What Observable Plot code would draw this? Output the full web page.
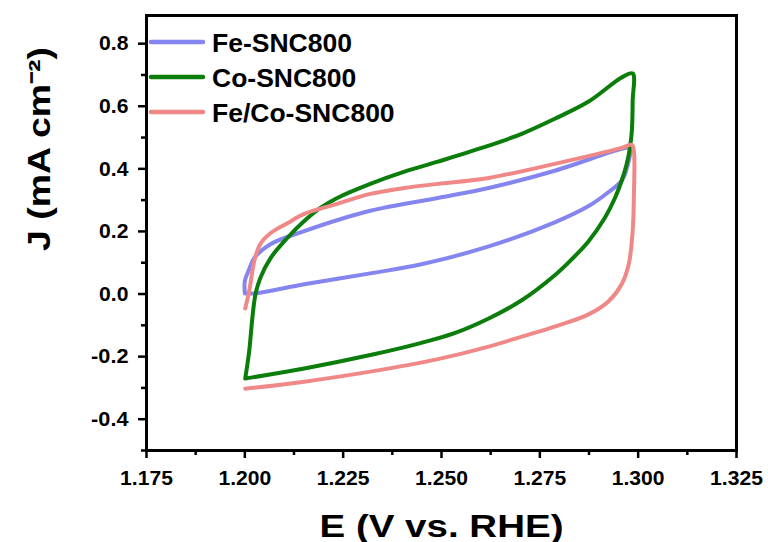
<!DOCTYPE html>
<html>
<head>
<meta charset="utf-8">
<script src="https://cdn.jsdelivr.net/npm/d3@7"></script>
<script src="https://cdn.jsdelivr.net/npm/@observablehq/plot@0.6"></script>
<style>
  html, body { margin: 0; padding: 0; background: #fff; }
  svg { display: block; }
</style>
</head>
<body>
<div id="chart"></div>
<script>
// Cyclic voltammograms in the non-faradaic window (double-layer capacitance)
const seriesNames = ["Fe-SNC800", "Co-SNC800", "Fe/Co-SNC800"];
const seriesColors = ["#8585f0", "#0b7d0b", "#f08888"];

// Fe-SNC800: potential (V vs. RHE) and current density (mA cm^-2)
const feE = [1.2000, 1.2024, 1.2151, 1.2319, 1.2449, 1.2620, 1.2788, 1.2874, 1.2925, 1.2958, 1.2973, 1.2979,
             1.2958, 1.2788, 1.2620, 1.2491, 1.2319, 1.2151, 1.2065, 1.2024, 1.2011, 1.2000, 1.2000];
const feJ = [0.002, 0.002, 0.031, 0.066, 0.095, 0.152, 0.229, 0.281, 0.326, 0.362, 0.410, 0.467,
             0.464, 0.394, 0.339, 0.307, 0.266, 0.201, 0.159, 0.115, 0.079, 0.041, 0.002];

// Co-SNC800
const coE = [1.2001, 1.2151, 1.2319, 1.2449, 1.2533, 1.2620, 1.2704, 1.2788, 1.2831, 1.2874, 1.2915, 1.2941,
             1.2958, 1.2971, 1.2979, 1.2984, 1.2986, 1.2986,
             1.2958, 1.2874, 1.2788, 1.2704, 1.2620, 1.2491, 1.2406, 1.2319, 1.2235, 1.2192, 1.2151, 1.2108,
             1.2065, 1.2039, 1.2027, 1.2019, 1.2011, 1.2001];
const coJ = [-0.270, -0.238, -0.195, -0.156, -0.125, -0.078, -0.020, 0.060, 0.111, 0.169, 0.243, 0.307,
             0.362, 0.416, 0.467, 0.522, 0.618, 0.705,
             0.692, 0.615, 0.560, 0.512, 0.474, 0.423, 0.391, 0.352, 0.307, 0.275, 0.233, 0.179,
             0.114, 0.050, -0.001, -0.078, -0.184, -0.270];

// Fe/Co-SNC800
const fecoE = [1.2001, 1.2011, 1.2024, 1.2039, 1.2065, 1.2108, 1.2151, 1.2235, 1.2319, 1.2406, 1.2491, 1.2620,
               1.2788, 1.2958, 1.2984, 1.2989, 1.2989, 1.2986, 1.2976, 1.2958, 1.2925, 1.2874, 1.2788, 1.2704,
               1.2620, 1.2491, 1.2319, 1.2151, 1.2001];
const fecoJ = [-0.046, 0.009, 0.105, 0.159, 0.194, 0.226, 0.256, 0.288, 0.320, 0.339, 0.352, 0.371,
               0.416, 0.467, 0.477, 0.458, 0.307, 0.201, 0.095, 0.031, -0.023, -0.065, -0.104, -0.136,
               -0.168, -0.208, -0.248, -0.280, -0.303];

// Axis ticks
const xMajor = [1.175, 1.200, 1.225, 1.250, 1.275, 1.300, 1.325];
const xMinor = [1.1875, 1.2125, 1.2375, 1.2625, 1.2875, 1.3125];
const yMajor = [-0.4, -0.2, 0.0, 0.2, 0.4, 0.6, 0.8];
const yMinor = [-0.5, -0.3, -0.1, 0.1, 0.3, 0.5, 0.7];
const xFormat = d => d.toFixed(3);
const yFormat = d => d.toFixed(1);

const xLabel = "E (V vs. RHE)";
const yLabel = "J (mA cm\u207B\u00B2)";

const curves = [[feE, feJ], [coE, coJ], [fecoE, fecoJ]];
const rows = curves.flatMap(([E, J], s) =>
  E.map((e, i) => ({series: seriesNames[s], E: e, J: J[i]})));

const font = "'Liberation Sans', Arial, Helvetica, sans-serif";

const chart = Plot.plot({
  width: 768,
  height: 542,
  marginLeft: 146,
  marginRight: 32,
  marginTop: 15,
  marginBottom: 92,
  style: {fontFamily: font, fontSize: "20px", fontWeight: "bold", color: "#000", background: "#fff"},
  x: {domain: [1.175, 1.325]},
  y: {domain: [-0.5, 0.89]},
  color: {domain: seriesNames, range: seriesColors},
  marks: [
    Plot.line(rows, {x: "E", y: "J", z: "series", stroke: "series", strokeWidth: 4,
                     curve: "catmull-rom", strokeLinejoin: "round", strokeLinecap: "round"}),
    Plot.frame({stroke: "#000", strokeWidth: 3}),
    // tick marks (major and minor)
    Plot.axisX(xMajor, {tickSize: 8, strokeWidth: 2.5, tickFormat: () => "", label: null}),
    Plot.axisX(xMinor, {tickSize: 5, strokeWidth: 2.5, tickFormat: () => "", label: null}),
    Plot.axisY(yMajor, {tickSize: 8, strokeWidth: 2.5, tickFormat: () => "", label: null}),
    Plot.axisY(yMinor, {tickSize: 5, strokeWidth: 2.5, tickFormat: () => "", label: null}),
    // tick labels
    Plot.text(xMajor, {x: d => d, text: xFormat, frameAnchor: "bottom", lineAnchor: "top", dy: 20,
                       fontSize: 21, fontWeight: "bold"}),
    Plot.text(yMajor, {y: d => d, text: yFormat, frameAnchor: "left", textAnchor: "end", dx: -18,
                       lineAnchor: "middle", fontSize: 21, fontWeight: "bold"}),
    // axis titles
    Plot.text([xLabel], {text: d => d, frameAnchor: "bottom", dy: 77, lineAnchor: "middle",
                         fontSize: 31, fontWeight: "bold"}),
    Plot.text([yLabel], {text: d => d, frameAnchor: "left", rotate: -90, dx: -106, dy: 18,
                         lineAnchor: "middle", fontSize: 31, fontWeight: "bold"})
  ]
});

// Tick labels: wide bold digits
const labelWidth = s => [...s].reduce((w, c) => w + (c === "." ? 6 : c === "-" ? 8 : 11.7), 0);
const tickTexts = new Set([...xMajor.map(xFormat), ...yMajor.map(yFormat)]);
d3.select(chart).selectAll("text")
  .filter(function() { return tickTexts.has(this.textContent.trim()); })
  .each(function() {
    d3.select(this).attr("textLength", labelWidth(this.textContent.trim()))
      .attr("lengthAdjust", "spacingAndGlyphs");
  });

// Stretch the axis titles to their wide lettering
d3.select(chart).selectAll("text")
  .filter(function() { return this.textContent === xLabel; })
  .attr("textLength", 244).attr("lengthAdjust", "spacingAndGlyphs");
d3.select(chart).selectAll("text")
  .filter(function() { return this.textContent === yLabel; })
  .attr("textLength", 204).attr("lengthAdjust", "spacingAndGlyphs");

// Legend in the top-left corner of the frame
const legend = d3.select(chart).append("g").attr("aria-label", "legend");
const lx = 146, ly = 15;
seriesNames.forEach((name, i) => {
  const y = ly + 27 + i * 35;
  legend.append("line")
    .attr("x1", lx + 5).attr("x2", lx + 57)
    .attr("y1", y).attr("y2", y)
    .attr("stroke", seriesColors[i]).attr("stroke-width", 4.5).attr("stroke-linecap", "round");
  legend.append("text")
    .attr("x", lx + 66).attr("y", y).attr("dy", "0.36em")
    .attr("text-anchor", "start")
    .attr("font-family", font).attr("font-size", 26.5).attr("font-weight", "bold")
    .attr("fill", "#000").text(name);
});

document.getElementById("chart").append(chart);
</script>
</body>
</html>
